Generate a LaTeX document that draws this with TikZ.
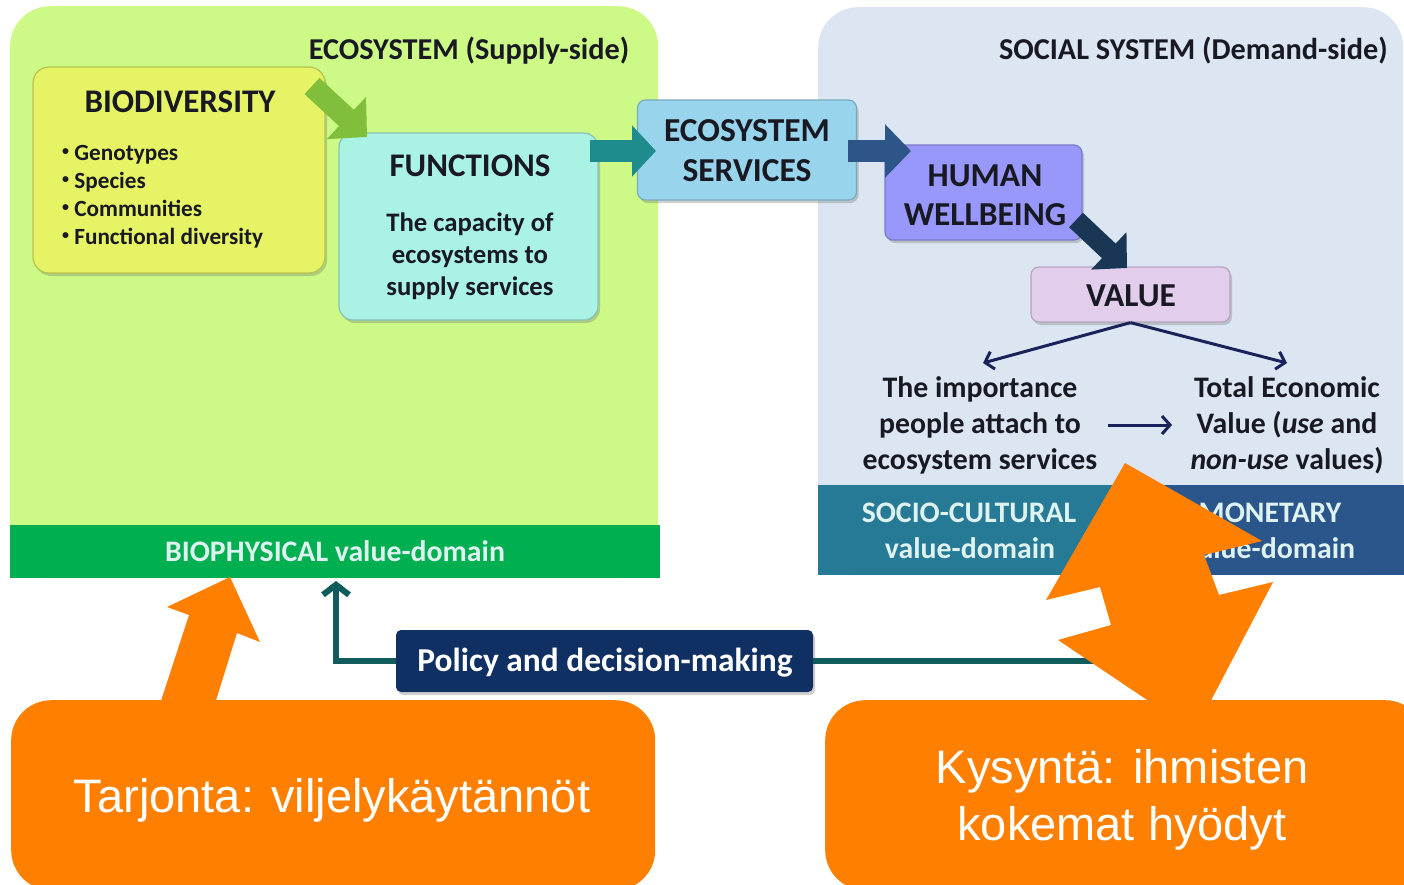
\documentclass[tikz,border=0pt]{standalone}
\usepackage{fontspec}
\setmainfont{Carlito}
\newfontfamily\orangefont{Liberation Sans}
\usetikzlibrary{arrows.meta,shadows}
\definecolor{ecogreen}{RGB}{205,250,135}
\definecolor{bandgreen}{RGB}{0,176,80}
\definecolor{biofill}{RGB}{230,243,100}
\definecolor{funcfill}{RGB}{170,242,228}
\definecolor{esfill}{RGB}{152,212,236}
\definecolor{hwfill}{RGB}{152,152,250}
\definecolor{valfill}{RGB}{226,206,236}
\definecolor{socfill}{RGB}{220,230,242}
\definecolor{sociband}{RGB}{38,122,150}
\definecolor{monband}{RGB}{42,86,140}
\definecolor{policyfill}{RGB}{16,48,100}
\definecolor{tealline}{RGB}{16,92,92}
\definecolor{navyline}{RGB}{25,35,90}
\definecolor{arrgreen}{RGB}{128,190,60}
\definecolor{arrteal}{RGB}{30,140,140}
\definecolor{arrblue}{RGB}{45,85,135}
\definecolor{arrdark}{RGB}{25,55,85}
\definecolor{orangefill}{RGB}{255,128,0}
\definecolor{txtdark}{RGB}{25,25,35}
\definecolor{txtlight}{RGB}{222,242,240}
\newcommand{\myfs}[1]{\fontsize{#1}{#1}\selectfont}
\newcommand{\smallbul}{\raisebox{0.18em}{\fontsize{14}{14}\selectfont\textbullet}\ }
\begin{document}
\begin{tikzpicture}[x=1pt,y=-1pt,
  panelbox/.style={rounded corners=40pt, inner sep=0pt, anchor=north west},
  bandbox/.style={inner sep=0pt, anchor=north west},
  card/.style={rounded corners=8pt, inner sep=0pt, line width=1.2pt,
    drop shadow={shadow xshift=2pt,shadow yshift=-3pt,opacity=0.3,fill=black!60}},
  lbl/.style={inner sep=0pt, anchor=base, text=txtdark},
  wlbl/.style={inner sep=0pt, anchor=base, text=txtlight},
  blockarrow/.style={line width=22pt},
  thinarrow/.style={draw=navyline, line width=3pt, -{Straight Barb[length=8pt,width=18pt,line width=3pt]}},
  orangebox/.style={fill=orangefill, rounded corners=40pt, inner sep=0pt, anchor=north west}
]
\useasboundingbox (0,0) rectangle (1404,884);
\fill[white] (0,0) rectangle (1404,884);

% panels
\node[panelbox, fill=ecogreen, minimum width=648, minimum height=572] (eco) at (10,6) {};
\node[panelbox, fill=socfill, minimum width=585, minimum height=568] (soc) at (818,7) {};
\node[bandbox, fill=bandgreen, minimum width=650, minimum height=53] (bioband) at (10,525) {};
\node[bandbox, fill=sociband, minimum width=297, minimum height=90] (sociband) at (818,485) {};
\node[bandbox, fill=monband, minimum width=289, minimum height=90] (monband) at (1115,485) {};

% panel titles
\node[lbl, font={\myfs{30.3}\bfseries}] (ecotitle) at (469,59) {ECOSYSTEM (Supply-side)};
\node[lbl, font={\myfs{30.3}\bfseries}, anchor=base east] (soctitle) at (1388,59) {SOCIAL SYSTEM (Demand-side)};

% boxes
\node[card, rounded corners=16pt, fill=biofill, draw=biofill!80!black, minimum width=292, minimum height=206] (bio) at (179,170) {};
\node[card, rounded corners=14pt, fill=funcfill, draw=funcfill!80!black, minimum width=259, minimum height=187] (func) at (468.5,226.5) {};
\node[card, fill=esfill, draw=esfill!80!black, minimum width=219, minimum height=100] (es) at (747,150) {};
\node[card, fill=hwfill, draw=hwfill!80!black, minimum width=197, minimum height=95] (hw) at (983.5,192.5) {};
\node[card, fill=valfill, draw=valfill!80!black, minimum width=199, minimum height=55] (value) at (1130.5,294.5) {};

% box texts
\node[lbl, font={\myfs{33}\bfseries}] (biotitle) at (180,112) {BIODIVERSITY};
\node[lbl, font={\myfs{23.2}\bfseries}, anchor=base west] (b1) at (62,160) {\smallbul Genotypes};
\node[lbl, font={\myfs{23.2}\bfseries}, anchor=base west] (b2) at (62,188) {\smallbul Species};
\node[lbl, font={\myfs{23.2}\bfseries}, anchor=base west] (b3) at (62,216) {\smallbul Communities};
\node[lbl, font={\myfs{23.2}\bfseries}, anchor=base west] (b4) at (62,244) {\smallbul Functional diversity};

\node[lbl, font={\myfs{33}\bfseries}] (functitle) at (470,176) {FUNCTIONS};
\node[lbl, font={\myfs{26.7}\bfseries}] (f1) at (470,231) {The capacity of};
\node[lbl, font={\myfs{26.7}\bfseries}] (f2) at (470,263) {ecosystems to};
\node[lbl, font={\myfs{26.7}\bfseries}] (f3) at (470,295) {supply services};

\node[lbl, font={\myfs{33.5}\bfseries}] (es1) at (747,141) {ECOSYSTEM};
\node[lbl, font={\myfs{33.5}\bfseries}] (es2) at (747,181) {SERVICES};
\node[lbl, font={\myfs{33.5}\bfseries}] (hw1) at (985,186) {HUMAN};
\node[lbl, font={\myfs{33.5}\bfseries}] (hw2) at (985,225) {WELLBEING};
\node[lbl, font={\myfs{33.5}\bfseries}] (val) at (1131,306) {VALUE};

% value texts
\node[lbl, font={\myfs{29.8}\bfseries}] (l1) at (980,397) {The importance};
\node[lbl, font={\myfs{29.8}\bfseries}] (l2) at (980,433) {people attach to};
\node[lbl, font={\myfs{29.8}\bfseries}] (l3) at (980,469) {ecosystem services};
\node[lbl, font={\myfs{29.8}\bfseries}] (r1) at (1287,397) {Total Economic};
\node[lbl, font={\myfs{29.8}\bfseries}] (r2) at (1287,433) {Value (\textit{use} and};
\node[lbl, font={\myfs{29.8}\bfseries}] (r3) at (1287,469) {\textit{non-use} values)};

% band texts
\node[wlbl, font={\myfs{29.8}\bfseries}] (bioband-t) at (335,561) {BIOPHYSICAL value-domain};
\node[wlbl, font={\myfs{29.8}\bfseries}] (soc-t1) at (969,522) {SOCIO-CULTURAL};
\node[wlbl, font={\myfs{29.8}\bfseries}] (soc-t2) at (970,558) {value-domain};
\node[wlbl, font={\myfs{29.8}\bfseries}] (mon-t1) at (1270,522) {MONETARY};
\node[wlbl, font={\myfs{29.8}\bfseries}] (mon-t2) at (1270,558) {value-domain};

% block arrows
\coordinate (ga1) at (312,86);  \coordinate (ga2) at (367,137);
\coordinate (ta1) at (590,151); \coordinate (ta2) at (656,151);
\coordinate (da1) at (848,151); \coordinate (da2) at (911,151);
\coordinate (va1) at (1076,220);\coordinate (va2) at (1127,268);
\draw[blockarrow, draw=arrgreen, -{Triangle[length=28pt,width=56pt]}] (ga1) -- (ga2);
\draw[blockarrow, draw=arrteal, -{Triangle[length=24pt,width=50pt]}] (ta1) -- (ta2);
\draw[blockarrow, draw=arrblue, -{Triangle[length=26pt,width=52pt]}] (da1) -- (da2);
\draw[line width=20pt, draw=arrdark, -{Triangle[length=25pt,width=50pt]}] (va1) -- (va2);

% thin arrows
\coordinate (vl) at (983,363); \coordinate (vr) at (1287,363);
\draw[thinarrow] (value.south) -- (vl);
\draw[thinarrow] (value.south) -- (vr);
\coordinate (ma1) at (1108,425); \coordinate (ma2) at (1172,425);
\draw[thinarrow] (ma1) -- (ma2);

% policy
\node[inner sep=0pt, rounded corners=5pt, fill=policyfill, minimum width=417, minimum height=62,
  drop shadow={shadow xshift=2pt,shadow yshift=-3pt,opacity=0.3,fill=black!60}] (policy) at (604.5,661) {};
\node[inner sep=0pt, anchor=base, text=white, font={\myfs{33.4}\bfseries}] (policy-t) at (605,671) {Policy and decision-making};
\coordinate (polup) at (336,581);
\coordinate (polright) at (1165,661);
\draw[draw=tealline, line width=6pt, -{Straight Barb[length=10pt,width=26pt,line width=6pt]}] (policy.west) -| (polup);
\draw[draw=tealline, line width=6pt] (policy.east) -- (polright);

% orange boxes
\node[orangebox, minimum width=644, minimum height=190] (supply) at (11,700) {};
\node[orangebox, minimum width=600, minimum height=190] (demand) at (825,700) {};
\node[inner sep=0pt, anchor=base, text=white, font={\orangefont\myfs{47}}] (supply-t) at (332,812) {Tarjonta: viljelykäytännöt};
\node[inner sep=0pt, anchor=base, text=white, font={\orangefont\myfs{47}}] (demand-t1) at (1122,783) {Kysyntä: ihmisten};
\node[inner sep=0pt, anchor=base, text=white, font={\orangefont\myfs{47}}] (demand-t2) at (1122,840) {kokemat hyödyt};

% orange arrows
\fill[orangefill] (158,710) -- (189,615) -- (167,607) -- (230,577) -- (260,642) -- (237,633) -- (213,710) -- cycle;
\fill[orangefill] (1125,463) -- (1262,541) -- (1204,555) -- (1219,595) -- (1273,582) -- (1206,710)
  -- (1162,710) -- (1058,640) -- (1111,625) -- (1100,587) -- (1046,600) -- cycle;
\end{tikzpicture}
\end{document}
